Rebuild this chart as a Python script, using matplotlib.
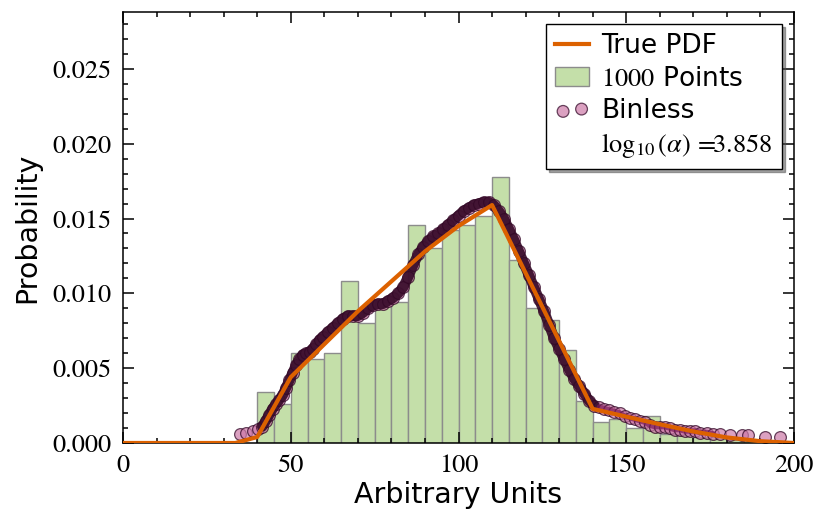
import matplotlib
matplotlib.use("Agg")
import matplotlib.pyplot as plt
import numpy as np
from matplotlib.lines import Line2D
from matplotlib.ticker import MultipleLocator

plt.rcParams['mathtext.fontset'] = 'stix'

# histogram of the 1000 samples (left bin edges, density per bin)
bin_left = [40, 45, 50, 55, 60, 65, 70, 75, 80, 85, 90, 95, 100, 105, 110,
            115, 120, 125, 130, 135, 140, 145, 150, 155, 160, 165, 170, 175,
            180, 185]
hist_density = [0.0034, 0.0026, 0.0060, 0.0056, 0.0060, 0.0108, 0.0080, 0.0094,
                0.0094, 0.0146, 0.0130, 0.0142, 0.0146, 0.0152, 0.0178, 0.0122,
                0.0090, 0.0082, 0.0062, 0.0028, 0.0014, 0.0016, 0.0010, 0.0018,
                0.0006, 0.0006, 0.0004, 0.0004, 0.0002, 0.0002]
bin_width = 5

# true pdf
pdf_x = [0, 33.5, 40, 50, 60, 70, 80, 90, 100, 110, 140, 150, 160, 170, 180, 190, 200]
pdf_y = [0, 0, 0.0004, 0.0044, 0.0066, 0.0088, 0.0108, 0.0128, 0.0145, 0.0159,
         0.00228, 0.00176, 0.00125, 0.00077, 0.00037, 0.00012, 0.0]

# binless estimate
binless_x = [34.9, 36.8, 38.6, 40.2, 41.5, 42.6, 43.6, 44.6, 45.6, 46.6, 47.6, 48.6,
             49.6, 50.6, 51.6, 52.6, 53.6, 54.6, 55.6, 56.6, 57.6, 58.6, 59.6, 61.0,
             62.5, 64.0, 65.5, 67.0, 68.5, 70.0, 71.5, 73.0, 74.5, 76.0, 77.5, 79.0,
             80.5, 82.0, 83.5, 85.0, 86.5, 88.0, 89.5, 91.0, 92.5, 94.0, 95.5, 97.0,
             98.5, 100.0, 101.5, 103.0, 104.5, 106.0, 107.5, 109.0, 110.5, 112.0,
             113.5, 115.0, 116.5, 118.0, 119.5, 121.0, 122.5, 124.0, 125.5, 127.0,
             128.5, 130.0, 131.5, 133.0, 134.5, 136.0, 137.5, 139.0, 140.5, 142.0,
             143.5, 145.0, 146.5, 148.0, 149.5, 151.0, 152.5, 154.0, 155.5, 157.0,
             158.5, 160.0, 161.5, 163.0, 164.5, 166.0, 167.5, 169.0, 170.5, 172.0,
             174.0, 176.0, 178.0, 181.0, 184.4, 186.4, 191.4, 195.8]
binless_y = [0.00062, 0.00068, 0.00078, 0.00092, 0.0011, 0.0015, 0.0019, 0.0023,
             0.0026, 0.0029, 0.0032, 0.0037, 0.0042, 0.0047, 0.0052, 0.0056, 0.0059,
             0.0060, 0.0061, 0.0063, 0.0066, 0.0069, 0.0071, 0.0074, 0.0077, 0.0080,
             0.0083, 0.0085, 0.0085, 0.0085, 0.0087, 0.0090, 0.0092, 0.0093, 0.0093,
             0.0095, 0.0097, 0.0100, 0.0104, 0.0111, 0.0119, 0.0126, 0.0131, 0.0135,
             0.0138, 0.0140, 0.0143, 0.0146, 0.0149, 0.0152, 0.0155, 0.0157, 0.0159,
             0.0160, 0.0161, 0.0161, 0.0159, 0.0155, 0.0150, 0.0143, 0.0136, 0.0128,
             0.0120, 0.0112, 0.0104, 0.0096, 0.0088, 0.0079, 0.0070, 0.0063, 0.0056,
             0.0049, 0.0043, 0.0038, 0.0033, 0.0028, 0.0025, 0.0024, 0.0023, 0.0022,
             0.0021, 0.0020, 0.0018, 0.0017, 0.0016, 0.0015, 0.0014, 0.0012, 0.0011,
             0.0011, 0.0011, 0.0010, 0.0009, 0.0009, 0.0008, 0.0008, 0.0008, 0.0007,
             0.0007, 0.0006, 0.0006, 0.00053, 0.00053, 0.00052, 0.00043, 0.00042]
log_alpha = 3.858

orange = '#dc6100'
pink = '#cc79a7'
green = '#c4dfa9'

fig = plt.figure(figsize=(8.17, 5.09), dpi=100)
ax = fig.add_axes([0.1506, 0.1297, 0.8212, 0.8467])

ax.bar(bin_left, hist_density, width=bin_width, align='edge', color=green,
       edgecolor='#8c8c8c', linewidth=1.0, label=r'$1000$ Points', zorder=1)

bx = np.array(binless_x)
by = np.array(binless_y)
ax.scatter(bx, by, s=72, color=pink, edgecolor='#2b0020', linewidth=0.9, alpha=0.7,
           label='Binless', zorder=2)
# overlapping markers make the dense part of the binless curve nearly black
dense = (bx > 41) & (bx < 141)
ax.plot(bx[dense], by[dense], color='#330826', linewidth=7.5, alpha=0.9,
        solid_capstyle='round', zorder=3)
mid = (bx > 141) & (bx < 178)
ax.plot(bx[mid], by[mid], color='#7a1a58', linewidth=4, alpha=0.7,
        solid_capstyle='round', zorder=3)

ax.plot(pdf_x, pdf_y, color=orange, linewidth=3, label='True PDF', zorder=4)

ax.set_xlim(0, 200)
ax.set_ylim(0, 0.0288)
ax.xaxis.set_major_locator(MultipleLocator(50))
ax.xaxis.set_minor_locator(MultipleLocator(10))
ax.yaxis.set_major_locator(MultipleLocator(0.005))
ax.yaxis.set_minor_locator(MultipleLocator(0.001))
ax.yaxis.set_major_formatter(plt.FormatStrFormatter('%.3f'))
ax.tick_params(which='both', direction='in', top=True, right=True, width=1.1)
ax.tick_params(which='major', length=8, pad=8, labelsize=19)
ax.tick_params(which='minor', length=3.6)
for lab in ax.get_xticklabels() + ax.get_yticklabels():
    lab.set_fontfamily('STIXGeneral')
for sp in ax.spines.values():
    sp.set_linewidth(1.1)

ax.set_xlabel('Arbitrary Units', fontsize=20.5, labelpad=2)
ax.set_ylabel('Probability', fontsize=20.5, labelpad=8)

handles, labels = ax.get_legend_handles_labels()
order = [labels.index('True PDF'), labels.index(r'$1000$ Points'), labels.index('Binless')]
handles = [handles[i] for i in order]
labels = [labels[i] for i in order]
handles.append(Line2D([], [], linestyle='none'))
labels.append(r'$\log_{10}(\alpha)\,=\!\!%.3f$' % log_alpha)
leg = ax.legend(handles, labels, loc='upper right', fontsize=19, frameon=True,
                fancybox=False, shadow=True, edgecolor='k', framealpha=1,
                handlelength=1.3, handletextpad=0.45, labelspacing=0.25,
                borderpad=0.35, scatterpoints=2, borderaxespad=0.45)
leg.get_frame().set_linewidth(1.0)

fig.savefig('out.png', dpi=100)
